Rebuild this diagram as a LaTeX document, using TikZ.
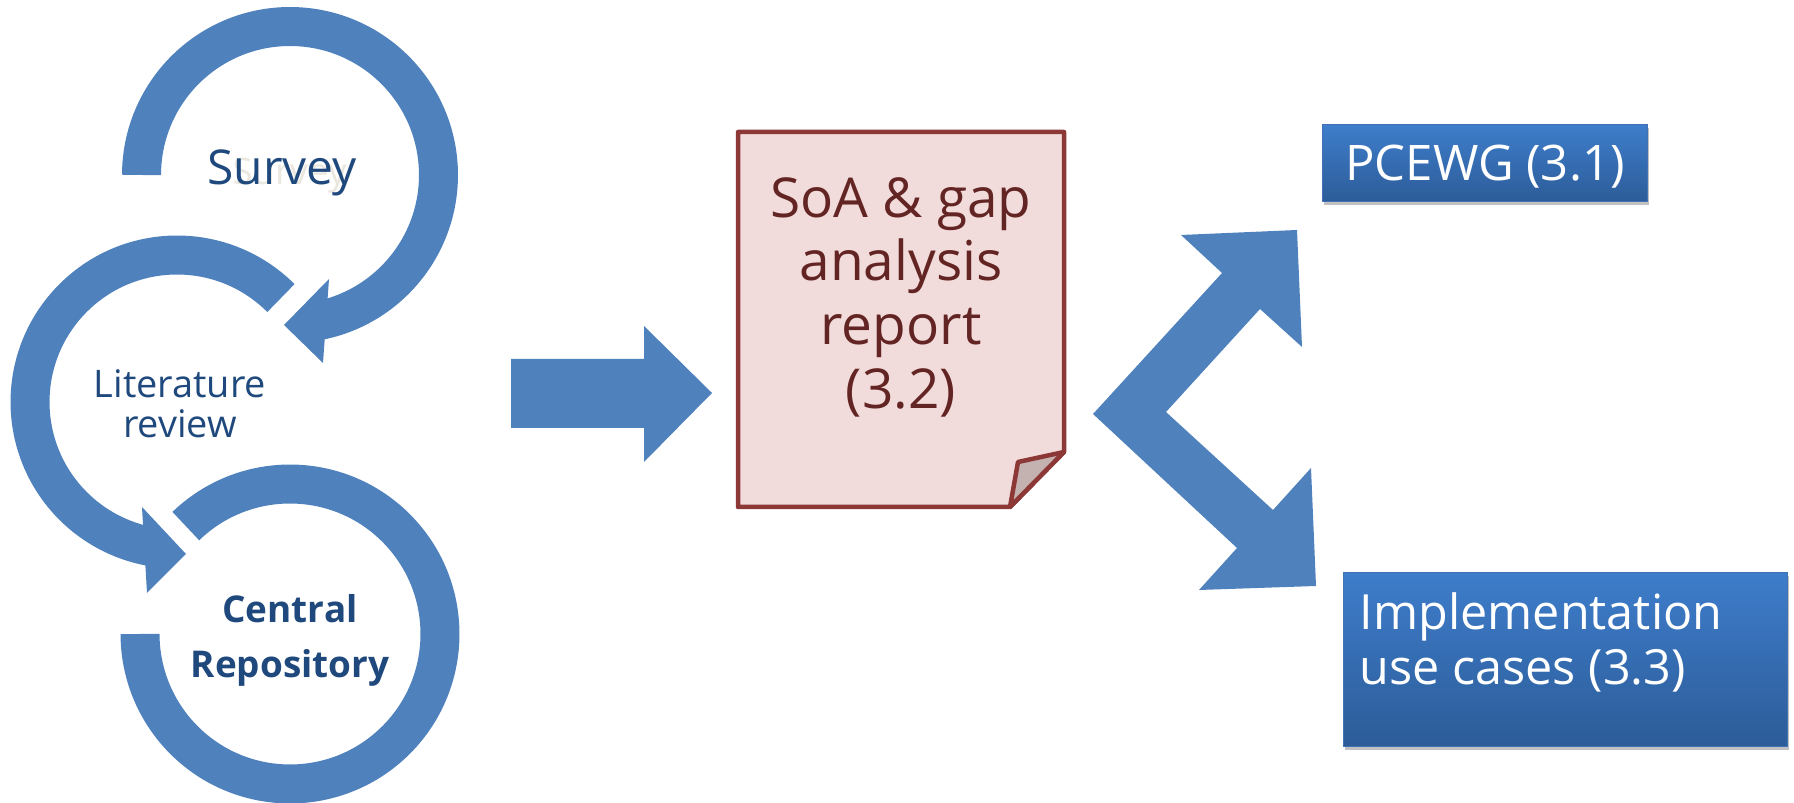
\documentclass[tikz,border=0pt]{standalone}
\usepackage{fontspec}
\setmainfont{Open Sans}
\usetikzlibrary{shadows}

\definecolor{ringblue}{RGB}{79,129,189}
\definecolor{textblue}{RGB}{31,73,125}
\definecolor{ghostgray}{RGB}{234,232,222}
\definecolor{reportedge}{RGB}{140,56,54}
\definecolor{reportfill}{RGB}{242,220,219}
\definecolor{reporttext}{RGB}{99,37,35}
\definecolor{flapfill}{RGB}{196,178,176}
\definecolor{boxtop}{RGB}{62,125,203}
\definecolor{boxbottom}{RGB}{44,92,152}
\definecolor{boxedge}{RGB}{66,114,180}

\begin{document}
\begin{tikzpicture}[x=0.02cm, y=0.02cm,
  ring/.style={draw=ringblue, line width=0.78cm},
  ringtext/.style={text=textblue, inner sep=0pt, align=center},
  bluebox/.style={draw=boxedge, line width=0.02cm, top color=boxtop, bottom color=boxbottom,
    text=white, inner sep=0pt,
    drop shadow={shadow xshift=0.03cm, shadow yshift=-0.07cm, opacity=0.35, fill=black!70}}]
  \useasboundingbox (0,0) rectangle (1794,803);

  % the three cycle rings
  \coordinate (survey c) at (290,628);
  \coordinate (review c) at (177,401);
  \coordinate (repo c) at (290,169);

  \draw[ring] (survey c) ++(180:2.97cm) arc[start angle=180, end angle=-80, radius=2.97cm];
  \fill[ringblue] (284,478) -- (329,524) -- (323,440) -- cycle;

  \draw[ring] (review c) ++(45:2.94cm) arc[start angle=45, end angle=260, radius=2.94cm];
  \fill[ringblue] (186,249) -- (142,296) -- (147,210) -- cycle;

  \draw[ring] (repo c) ++(134:3cm) arc[start angle=134, end angle=-180, radius=3cm];

  \node[ringtext, text=ghostgray, anchor=base, font=\fontsize{20.8}{24}\selectfont] (survey ghost) at (289.5,618) {Survey};
  \node[ringtext, anchor=base, font=\fontsize{27.3}{32}\selectfont] (survey) at (282,618) {Survey};
  \node[ringtext, anchor=north, font=\fontsize{21.6}{22.8}\selectfont] (review) at (180,434) {Literature\\review};
  \node[ringtext, anchor=north, font=\bfseries\fontsize{21}{31.3}\selectfont] (repo) at (290,209) {Central\\Repository};

  % block arrow into the report
  \fill[ringblue] (511,375) -- (644,375) -- (644,341) -- (712,410) -- (644,477) -- (644,444) -- (511,444) -- cycle;

  % report sheet with folded corner
  \filldraw[fill=reportfill, draw=reportedge, line width=0.09cm, line join=round]
    (738,671) -- (1064,671) -- (1064,351) -- (1010,296) -- (738,296) -- cycle;
  \filldraw[fill=flapfill, draw=reportedge, line width=0.09cm, line join=round]
    (1018,341) -- (1064,351) -- (1010,296) -- cycle;
  \node[text=reporttext, anchor=north, align=center, inner sep=0pt,
    font=\fontsize{31.3}{36.2}\selectfont] (report) at (901,626) {SoA \& gap\\analysis\\report\\(3.2)};

  % forked arrow
  \fill[ringblue] (1093,389) -- (1222,530) -- (1181,568) -- (1297,573) -- (1302,456) -- (1260,494)
    -- (1166,391) -- (1273,293) -- (1311,335) -- (1316,217) -- (1199,213) -- (1237,255) -- cycle;

  % outcome boxes
  \node[bluebox, minimum width=6.52cm, minimum height=1.54cm, text height=0.7cm, text depth=0cm,
    font=\fontsize{27.9}{32}\selectfont] (pcewg) at (1485,639.5) {PCEWG (3.1)};
  \node[bluebox, minimum width=8.9cm, minimum height=3.5cm] (impl) at (1565.5,143.5) {};
  \node[text=white, anchor=north west, align=left, inner sep=0pt,
    font=\fontsize{27.6}{31.3}\selectfont] (impl text) at ([xshift=0.34cm, yshift=-0.42cm]impl.north west)
    {Implementation\\use cases (3.3)};
\end{tikzpicture}
\end{document}
